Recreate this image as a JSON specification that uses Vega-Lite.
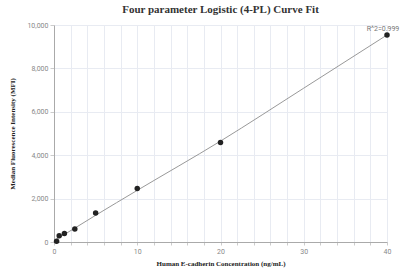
{
  "$schema": "https://vega.github.io/schema/vega-lite/v6.json",
  "autosize": "none",
  "width": 333,
  "height": 217,
  "padding": {"left": 54, "top": 25, "right": 17, "bottom": 29},
  "background": "white",
  "title": {"text": "Four parameter Logistic (4-PL) Curve Fit", "font": "Liberation Serif", "fontSize": 11, "fontWeight": "bold", "color": "#333", "offset": 6},
  "config": {"view": {"stroke": null}, "axis": {"labelOverlap": false, "labelFlush": false}},
  "datasets": {
    "points": [
      {"conc": 0.3125, "mfi": 30},
      {"conc": 0.625, "mfi": 290},
      {"conc": 1.25, "mfi": 390},
      {"conc": 2.5, "mfi": 600},
      {"conc": 5, "mfi": 1340},
      {"conc": 10, "mfi": 2470},
      {"conc": 20, "mfi": 4590},
      {"conc": 40, "mfi": 9540}
    ],
    "fit": [
      {"conc": 0, "mfi": 60},
      {"conc": 2.5, "mfi": 640},
      {"conc": 5, "mfi": 1230},
      {"conc": 10, "mfi": 2380},
      {"conc": 20, "mfi": 4650},
      {"conc": 30, "mfi": 7090},
      {"conc": 40, "mfi": 9540}
    ],
    "label": [{"conc": 40, "mfi": 9540, "txt": "R^2=0.999"}]
  },
  "encoding": {
    "x": {"field": "conc", "type": "quantitative", "scale": {"domain": [0, 40], "nice": false},
      "axis": {"title": "Human E-cadherin Concentration (ng/mL)", "titleFont": "Liberation Serif", "titleFontSize": 7, "titleFontWeight": "bold", "titleColor": "#222", "titlePadding": 5,
        "values": [0,2,4,6,8,10,12,14,16,18,20,22,24,26,28,30,32,34,36,38,40],
        "labelExpr": "datum.value % 10 === 0 ? format(datum.value, 'd') : ''",
        "labelFontSize": 7, "labelColor": "#888", "labelFont": "Roboto",
        "domainColor": "#aaa", "tickColor": "#ccc", "tickSize": 3, "gridColor": "#e8ebf2", "grid": true}},
    "y": {"field": "mfi", "type": "quantitative", "scale": {"domain": [0, 10000], "nice": false},
      "axis": {"title": "Median Fluorescence Intensity (MFI)", "titleFont": "Liberation Serif", "titleFontSize": 7, "titleFontWeight": "bold", "titleColor": "#222", "titlePadding": 11,
        "values": [0, 2000, 4000, 6000, 8000, 10000],
        "labelFontSize": 7, "labelColor": "#888", "labelFont": "Roboto",
        "domainColor": "#aaa", "tickColor": "#ccc", "tickSize": 4, "gridColor": "#e8ebf2", "grid": true}}
  },
  "layer": [
    {
      "data": {"name": "fit"},
      "mark": {"type": "line", "color": "#999", "strokeWidth": 1, "interpolate": "monotone"}
    },
    {
      "data": {"name": "points"},
      "mark": {"type": "circle", "color": "#222", "size": 30, "opacity": 1}
    },
    {
      "data": {"name": "label"},
      "mark": {"type": "text", "color": "#777", "fontSize": 7, "font": "Roboto", "dx": -4, "dy": -6, "align": "center"},
      "encoding": {
        "text": {"field": "txt"}
      }
    }
  ]
}
